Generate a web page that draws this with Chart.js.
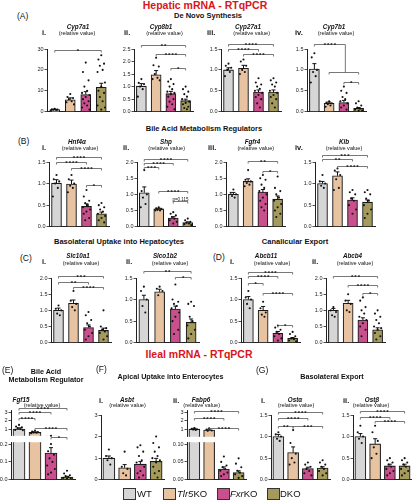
<!DOCTYPE html>
<html><head><meta charset="utf-8">
<script src="https://cdn.jsdelivr.net/npm/chart.js@4.4.1/dist/chart.umd.min.js"></script>
<style>
html,body{margin:0;padding:0;background:#fff;}
#fig{position:relative;width:412px;height:500px;overflow:hidden;font-family:"Liberation Sans",Arial,sans-serif;color:#111;}
.t{position:absolute;white-space:nowrap;line-height:1;transform:translate(-50%,-50%);}
.l{position:absolute;white-space:nowrap;line-height:1;transform:translate(0,-50%);}
canvas{position:absolute;}
.lg{position:absolute;top:488px;width:11px;height:10px;border:1px solid #333;}
</style></head><body><div id="fig"></div>
<script>
// ---------------- DATA ----------------
const GROUPS = ['WT','Tlr5KO','FxrKO','DKO'];
const COLORS = ['#d6d6d6','#e8c3a2','#c9508c','#a39a5b'];

const cyp7a1Mean = [1.0, 5.7, 8.2, 11.7];
const cyp7a1Sem  = [0.2, 0.9, 1.4, 1.9];
const cyp7a1Dots = [[1.4,1.2,1.0,0.9,0.8,0.5],[8.5,7,6.5,6,5,4.5,3.5],[23.5,19,15,12,10,9,8,7,6,5,4,3,2,1],[27,25,23,22,20,19,14,12,10,9,7,5,3,2,1]];
const cyp7a1Sig  = [[0,3,29.5,'*']];
const cyp7a1Ticks = [0,10,20,30];

const cyp8b1Mean = [1.02, 1.47, 0.72, 0.44];
const cyp8b1Sem  = [0.10, 0.17, 0.09, 0.06];
const cyp8b1Dots = [[1.3,1.15,1.1,1.0,0.9,0.6],[2.15,1.85,1.8,1.5,1.35,1.3,1.25],[1.3,1.2,1.1,1.0,0.9,0.8,0.75,0.7,0.6,0.5,0.4,0.3,0.2,0.1],[1.0,0.9,0.8,0.7,0.6,0.5,0.4,0.35,0.3,0.2,0.15,0.1]];
const cyp8b1Sig  = [[0,3,2.65,'**'],[1,3,2.32,'****'],[2,3,1.75,'*']];
const cyp8b1Ticks = [0,0.5,1,1.5,2,2.5];

const cyp27a1Mean = [1.0, 1.04, 0.47, 0.47];
const cyp27a1Sem  = [0.05, 0.07, 0.05, 0.05];
const cyp27a1Dots = [[1.15,1.1,1.05,1.0,0.95,0.85],[1.25,1.2,1.1,1.0,0.95,0.9],[0.8,0.7,0.65,0.6,0.55,0.5,0.45,0.4,0.35,0.3,0.2,0.1],[0.8,0.75,0.7,0.65,0.6,0.5,0.45,0.4,0.35,0.3,0.2,0.1]];
const cyp27a1Sig  = [[0,3,1.62,'****'],[0,2,1.5,'****'],[1,3,1.37,'****']];
const cyp27a1Ticks = [0,0.5,1,1.5];

const cyp7b1Mean = [1.02, 0.20, 0.22, 0.08];
const cyp7b1Sem  = [0.13, 0.03, 0.05, 0.02];
const cyp7b1Dots = [[1.4,1.3,1.0,0.95,0.85,0.7],[0.25,0.22,0.2,0.18,0.15,0.12],[0.6,0.5,0.45,0.35,0.3,0.25,0.2,0.15,0.1,0.05],[0.25,0.2,0.15,0.1,0.07,0.05,0.03,0.02]];
const cyp7b1Sig  = [[0,2.1,1.62,'****',1,3,0.96],[2,3,0.72,'*']];
const cyp7b1Ticks = [0,0.5,1,1.5];

const hnf4aMean = [1.01, 0.99, 0.47, 0.30];
const hnf4aSem  = [0.08, 0.09, 0.06, 0.04];
const hnf4aDots = [[1.2,1.1,1.05,1.0,0.9,0.7],[1.2,1.1,1.0,0.95,0.9,0.8],[0.85,0.7,0.6,0.55,0.5,0.45,0.4,0.35,0.3,0.2,0.15],[0.55,0.5,0.45,0.4,0.35,0.3,0.25,0.2,0.15,0.1]];
const hnf4aSig  = [[0,3,1.61,'****'],[0,2,1.49,'****'],[1,3,1.35,'****'],[2,3,0.97,'*']];
const hnf4aTicks = [0,0.5,1,1.5];

const shpMean = [1.05, 0.55, 0.27, 0.13];
const shpSem  = [0.18, 0.02, 0.04, 0.02];
const shpDots = [[1.75,1.1,1.0,0.9,0.7,0.6],[0.6,0.57,0.55,0.52,0.5,0.5],[0.45,0.4,0.35,0.3,0.25,0.2,0.15,0.1],[0.25,0.2,0.15,0.12,0.1,0.08,0.05]];
const shpSig  = [[0,3,2.09,'****'],[0,2,1.98,'****'],[0,1,1.86,'***'],[1,3,1.11,'****'],[2,3,0.78,'p=0.115']];
const shpTicks = [0,0.5,1,1.5,2];

const fgfr4Mean = [1.0, 1.40, 1.07, 0.85];
const fgfr4Sem  = [0.06, 0.08, 0.08, 0.10];
const fgfr4Dots = [[1.15,1.05,1.0,0.95,0.9],[1.75,1.45,1.4,1.35,1.3,1.25],[1.6,1.5,1.45,1.3,1.2,1.1,1.0,0.9,0.8,0.7,0.6,0.5],[1.55,1.2,1.1,1.0,0.9,0.8,0.7,0.6,0.5,0.4,0.3]];
const fgfr4Sig  = [[1,3,2.03,'**'],[2,3,1.72,'*']];
const fgfr4Ticks = [0,0.5,1,1.5,2];

const klbMean = [1.0, 1.18, 0.62, 0.57];
const klbSem  = [0.05, 0.09, 0.05, 0.05];
const klbDots = [[1.2,1.05,1.0,0.95,0.9],[1.35,1.3,1.2,1.1,0.9,0.85],[0.85,0.8,0.75,0.65,0.6,0.5,0.4,0.3],[0.85,0.8,0.75,0.65,0.6,0.5,0.4,0.3,0.2]];
const klbSig  = [[0,3,1.66,'***'],[0,2,1.58,'**'],[1,3,1.41,'****']];
const klbTicks = [0,0.5,1,1.5];

const slc10a1Mean = [1.0, 1.22, 0.47, 0.38];
const slc10a1Sem  = [0.07, 0.10, 0.08, 0.07];
const slc10a1Dots = [[1.15,1.05,1.0,0.9,0.85],[1.6,1.3,1.2,1.1,1.0],[0.95,0.85,0.7,0.6,0.5,0.4,0.3,0.2,0.1],[1.0,0.5,0.45,0.4,0.35,0.3,0.2,0.1]];
const slc10a1Sig  = [[0,3,2.06,'***'],[0,2,1.89,'**'],[1,3,1.73,'****']];
const slc10a1Ticks = [0,0.5,1,1.5,2];

const slco1b2Mean = [1.0, 1.18, 0.78, 0.47];
const slco1b2Sem  = [0.10, 0.06, 0.07, 0.08];
const slco1b2Dots = [[1.3,1.2,1.0,0.85,0.7],[1.3,1.25,1.2,1.1],[1.35,1.0,0.95,0.9,0.85,0.8,0.7,0.6,0.5,0.3,0.2],[0.95,0.9,0.85,0.6,0.5,0.4,0.3,0.2,0.1]];
const slco1b2Sig  = [[0,3,1.66,'**'],[2,3,1.53,'*']];
const slco1b2Ticks = [0,0.5,1,1.5];

const abcb11Mean = [1.0, 0.75, 0.22, 0.10];
const abcb11Sem  = [0.07, 0.09, 0.04, 0.02];
const abcb11Dots = [[1.2,1.05,1.0,0.9,0.8],[0.95,0.8,0.7,0.65,0.6],[0.4,0.35,0.3,0.25,0.2,0.15,0.1,0.05],[0.25,0.2,0.15,0.1,0.08,0.05,0.03]];
const abcb11Sig  = [[0,3,1.65,'****'],[0,2,1.55,'****'],[0,1,1.39,'*'],[1,3,1.15,'****'],[2,3,0.4,'*']];
const abcb11Ticks = [0,0.5,1,1.5];

const abcb4Mean = [1.0, 1.22, 0.70, 0.40];
const abcb4Sem  = [0.06, 0.09, 0.07, 0.06];
const abcb4Dots = [[1.1,1.0,0.95,0.85,0.8],[1.5,1.3,1.2,1.0,0.95],[1.4,1.3,1.1,1.0,0.9,0.8,0.7,0.6,0.5,0.4,0.2],[1.0,0.9,0.8,0.7,0.6,0.5,0.45,0.4,0.3,0.2,0.1]];
const abcb4Sig  = [[0,3,2.07,'***'],[1,3,1.78,'****'],[2,3,1.53,'*']];
const abcb4Ticks = [0,0.5,1,1.5,2];

const fgf15Mean = [1.0, 0.60, 0.15, 0.015];
const fgf15Sem  = [0.15, 0.05, 0.03, 0.004];
const fgf15Dots = [[1.5,1.3,1.2,1.1,1.0,0.9,0.85],[0.8,0.7,0.65,0.6,0.55,0.5],[0.2,0.16,0.14,0.12,0.1,0.08,0.06,0.04,0.03],[0.05,0.035,0.025,0.02,0.015,0.01,0.008,0.005]];
const fgf15Sig  = [[0,3,3.5,'****'],[0,2,3.03,'****'],[0,1,2.31,'****'],[1,3,1.12,'****'],[2,3,0.0,'*']];
const fgf15TicksUpper = [1,2,3];
const fgf15TicksLower = [0,0.1,0.2];

const asbtMean = [1.0, 0.55, 0.72, 0.85];
const asbtSem  = [0.10, 0.15, 0.12, 0.14];
const asbtDots = [[1.4,1.1,1.0,0.9,0.7],[1.3,0.6,0.5,0.3,0.2],[1.6,1.5,1.3,1.1,0.9,0.8,0.6,0.4,0.3,0.2,0.1],[2.0,1.7,1.5,1.3,1.1,1.0,0.9,0.8,0.6,0.4,0.3,0.1]];
const asbtSig  = [];
const asbtTicks = [0,1,2,3];

const fabp6Mean = [1.0, 0.90, 0.030, 0.020];
const fabp6Sem  = [0.10, 0.10, 0.006, 0.005];
const fabp6Dots = [[1.15,1.05,1.0,0.95,0.9],[1.1,0.95,0.85,0.8],[0.065,0.05,0.04,0.035,0.03,0.025,0.02,0.015,0.01],[0.06,0.045,0.035,0.025,0.02,0.015,0.01,0.005]];
const fabp6Sig  = [[0,3,3.18,'****'],[0,2,2.32,'****'],[1,3,1.2,'****']];
const fabp6TicksUpper = [1,2,3];
const fabp6TicksLower = [0,0.05,0.1];

const ostaMean = [1.0, 0.63, 0.26, 0.27];
const ostaSem  = [0.05, 0.13, 0.03, 0.03];
const ostaDots = [[1.1,1.05,1.0,0.95,0.9],[1.15,0.85,0.6,0.5,0.4,0.35],[0.4,0.35,0.3,0.25,0.2,0.15,0.1],[0.45,0.4,0.35,0.3,0.25,0.2,0.15,0.1]];
const ostaSig  = [[0,3,1.58,'****'],[0,2,1.44,'****'],[0,1,1.25,'**'],[1,3,1.25,'***']];
const ostaTicks = [0,0.5,1,1.5];

const ostbMean = [1.0, 0.83, 0.32, 0.32];
const ostbSem  = [0.07, 0.12, 0.04, 0.04];
const ostbDots = [[1.25,1.1,1.0,0.95,0.85],[1.25,1.1,0.9,0.75,0.6,0.5],[0.5,0.45,0.4,0.35,0.3,0.25,0.2,0.15,0.1],[0.5,0.45,0.4,0.35,0.3,0.25,0.2,0.15,0.1]];
const ostbSig  = [[0,3,1.59,'****'],[0,2,1.45,'****'],[1,3,1.36,'****']];
const ostbTicks = [0,0.5,1,1.5];

// ---------------- RENDERING ----------------
const fig = document.getElementById('fig');
const FF = "'Liberation Sans', Arial, sans-serif";

function txt(html, x, y, css, anchor){
  const d = document.createElement('div');
  d.className = anchor === 'l' ? 'l' : 't';
  d.innerHTML = html;
  d.style.cssText = 'left:'+x+'px;top:'+y+'px;' + css;
  fig.appendChild(d);
}

function spread(vals){
  const pat = [0,-0.18,0.18,-0.09,0.09,-0.24,0.24];
  return vals.slice().sort((a,b)=>b-a).map((v,k)=>({v, dx: pat[k % pat.length]}));
}

function annotPlugin(mean, sem, errOK, sig){
  return {
    id: 'annot',
    afterDatasetsDraw(chart){
      const ctx = chart.ctx, xs = chart.scales.x, ys = chart.scales.y;
      ctx.save();
      ctx.strokeStyle = '#111'; ctx.lineWidth = 1;
      mean.forEach((m,i)=>{
        if (!errOK(m)) return;
        const x = xs.getPixelForValue(i);
        const y0 = ys.getPixelForValue(m), y1 = ys.getPixelForValue(m + sem[i]);
        ctx.beginPath(); ctx.moveTo(x, y0); ctx.lineTo(x, y1);
        ctx.moveTo(x-2, y1); ctx.lineTo(x+2, y1); ctx.stroke();
      });
      sig.forEach(b=>{
        const [a, c, v, t, a2, c2, v2] = b;
        const y = Math.round(ys.getPixelForValue(v)) + 0.5;
        const x1 = xs.getPixelForValue(a), x2 = xs.getPixelForValue(c);
        ctx.strokeStyle = '#555'; ctx.lineWidth = 0.8;
        ctx.beginPath(); ctx.moveTo(x1, y+2); ctx.lineTo(x1, y); ctx.lineTo(x2, y);
        if (a2 == null) { ctx.lineTo(x2, y+2); }
        else {
          const yy = Math.round(ys.getPixelForValue(v2)) + 0.5;
          ctx.lineTo(x2, yy);
          const p1 = xs.getPixelForValue(a2), p2 = xs.getPixelForValue(c2);
          ctx.moveTo(p1, yy+2); ctx.lineTo(p1, yy); ctx.lineTo(p2, yy); ctx.lineTo(p2, yy+2);
        }
        ctx.stroke();
        ctx.fillStyle = '#111'; ctx.textAlign = 'center'; ctx.textBaseline = 'alphabetic';
        if (t.startsWith('p=')) {
          ctx.font = '4.5px ' + FF; ctx.letterSpacing = '0px';
          ctx.fillText(t, (x1+x2)/2, y-1);
        } else {
          ctx.font = 'bold 6px ' + FF; ctx.letterSpacing = '1px';
          ctx.fillText(t, (x1+x2)/2 + 0.5, y+2.4);
        }
      });
      ctx.restore();
    }
  };
}

function makeChart(p, g){
  const YW = 16, padR = 5;
  const w = 4 * p.s;
  const L = Math.round(p.left - YW), T = Math.round(g.top - g.padT);
  const cw = Math.round(YW + w + padR);
  const ch = Math.round(g.bottom - T + g.padB);
  const cv = document.createElement('canvas');
  cv.width = cw; cv.height = ch;
  cv.style.left = L + 'px'; cv.style.top = T + 'px';
  fig.appendChild(cv);
  const padTop = g.top - T, padBottom = ch - (g.bottom - T);
  const pts = [];
  p.dots.forEach((arr,i)=>{ spread(arr).forEach(o=>{ if (g.keep(o.v)) pts.push({x: i + o.dx, y: o.v}); }); });
  const bars = p.mean.map((m,i)=>({x:i, y:m}));
  new Chart(cv, {
    type: 'bar',
    data: { datasets: [
      { type:'scatter', data: pts, xAxisID:'x', yAxisID:'y', pointRadius: 1.05, pointBackgroundColor:'#111', pointBorderWidth:0, order:0, clip:false },
      { type:'bar', data: bars, xAxisID:'x', yAxisID:'y', backgroundColor: COLORS, borderColor:'#1a1a1a', borderWidth:1.1,
        barThickness: p.bw, order:1, clip:0 }
    ]},
    options: {
      responsive:false, animation:false, events:[],
      layout:{ padding:{ top: padTop, bottom: padBottom, left:0, right: padR } },
      plugins:{ legend:{display:false}, tooltip:{enabled:false} },
      scales:{
        x:{ type:'linear', min:-0.5, max:3.5, offset:false, grid:{display:false, drawTicks:false}, ticks:{display:false},
            border:{display: g.showX, color:'#222', width:1}, afterFit: s=>{ s.height = 0; } },
        y:{ type:'linear', min: g.min, max: g.max,
            afterBuildTicks: s=>{ s.ticks = g.ticks.map(v=>({value:v})); },
            afterFit: s=>{ s.width = YW; },
            ticks:{ font:{size:5.5, family:FF}, color:'#222', padding:1, autoSkip:false, callback: v=> Number(v).toFixed(g.dec) },
            grid:{ display:true, drawOnChartArea:false, drawTicks:true, tickLength:2.5, color:'#222', lineWidth:0.8 },
            border:{ display:true, color:'#222', width:1 } }
      }
    },
    plugins: [annotPlugin(p.mean, p.sem, g.errOK, g.sig)]
  });
}

function panel(p){
  makeChart(p, { min:0, max:p.max, ticks:p.ticks, dec:p.dec, top:p.top, bottom:p.bottom, padT:p.padT||16, padB:4,
    showX:true, sig:p.sig, keep:()=>true, errOK:()=>true });
}
function brokenPanel(p){
  makeChart(p, { min:p.upMin, max:p.upMax, ticks:p.ticksUp, dec:0, top:p.upTop, bottom:p.upBottom, padT:10, padB:4,
    showX:false, sig:p.sig, keep:v=> v >= p.upMin, errOK:m=> m > p.cut });
  makeChart(p, { min:0, max:p.cut, ticks:p.ticksLow, dec:p.decLow, top:p.lowTop, bottom:p.lowBottom, padT:2, padB:4,
    showX:true, sig:[], keep:v=> v <= p.cut, errOK:m=> m <= p.cut });
}

// Row A
panel({mean:cyp7a1Mean, sem:cyp7a1Sem, dots:cyp7a1Dots, sig:cyp7a1Sig, ticks:cyp7a1Ticks, dec:0, max:30, left:46.5, s:15.5, bw:10, top:49, bottom:112});
panel({mean:cyp8b1Mean, sem:cyp8b1Sem, dots:cyp8b1Dots, sig:cyp8b1Sig, ticks:cyp8b1Ticks, dec:1, max:2.5, left:133.5, s:14.7, bw:10, top:49, bottom:112});
panel({mean:cyp27a1Mean, sem:cyp27a1Sem, dots:cyp27a1Dots, sig:cyp27a1Sig, ticks:cyp27a1Ticks, dec:1, max:1.5, left:220.5, s:15, bw:10, top:49, bottom:112});
panel({mean:cyp7b1Mean, sem:cyp7b1Sem, dots:cyp7b1Dots, sig:cyp7b1Sig, ticks:cyp7b1Ticks, dec:1, max:1.5, left:306.5, s:14.7, bw:10, top:49, bottom:112});
// Row B
panel({mean:hnf4aMean, sem:hnf4aSem, dots:hnf4aDots, sig:hnf4aSig, ticks:hnf4aTicks, dec:1, max:1.5, left:49, s:15, bw:10, top:162, bottom:227});
panel({mean:shpMean, sem:shpSem, dots:shpDots, sig:shpSig, ticks:shpTicks, dec:1, max:2.0, left:137, s:14.5, bw:10, top:162, bottom:227});
panel({mean:fgfr4Mean, sem:fgfr4Sem, dots:fgfr4Dots, sig:fgfr4Sig, ticks:fgfr4Ticks, dec:1, max:2.0, left:225.5, s:14.7, bw:10, top:162, bottom:227});
panel({mean:klbMean, sem:klbSem, dots:klbDots, sig:klbSig, ticks:klbTicks, dec:1, max:1.5, left:314.5, s:15, bw:10, top:162, bottom:227});
// Row C / D
panel({mean:slc10a1Mean, sem:slc10a1Sem, dots:slc10a1Dots, sig:slc10a1Sig, ticks:slc10a1Ticks, dec:1, max:2.0, left:50.5, s:15, bw:10, top:278, bottom:343});
panel({mean:slco1b2Mean, sem:slco1b2Sem, dots:slco1b2Dots, sig:slco1b2Sig, ticks:slco1b2Ticks, dec:1, max:1.5, left:136, s:15.7, bw:10, top:278, bottom:343});
panel({mean:abcb11Mean, sem:abcb11Sem, dots:abcb11Dots, sig:abcb11Sig, ticks:abcb11Ticks, dec:1, max:1.5, left:240.5, s:14.7, bw:10, top:278, bottom:343});
panel({mean:abcb4Mean, sem:abcb4Sem, dots:abcb4Dots, sig:abcb4Sig, ticks:abcb4Ticks, dec:1, max:2.0, left:325.5, s:14.7, bw:10, top:278, bottom:343});
// Row E / F / G
brokenPanel({mean:fgf15Mean, sem:fgf15Sem, dots:fgf15Dots, sig:fgf15Sig, ticksUp:fgf15TicksUpper, ticksLow:fgf15TicksLower, decLow:1,
  upMin:0.2, upMax:3.3, cut:0.21, left:11, s:16, bw:12, upTop:410, upBottom:436, lowTop:440, lowBottom:480});
panel({mean:asbtMean, sem:asbtSem, dots:asbtDots, sig:asbtSig, ticks:asbtTicks, dec:0, max:3, left:101, s:15.7, bw:12, top:415, bottom:480, padT:8});
brokenPanel({mean:fabp6Mean, sem:fabp6Sem, dots:fabp6Dots, sig:fabp6Sig, ticksUp:fabp6TicksUpper, ticksLow:fabp6TicksLower, decLow:2,
  upMin:0.1, upMax:3.3, cut:0.105, left:186.5, s:14.7, bw:11, upTop:410, upBottom:437, lowTop:440, lowBottom:480});
panel({mean:ostaMean, sem:ostaSem, dots:ostaDots, sig:ostaSig, ticks:ostaTicks, dec:1, max:1.5, left:270.5, s:14.7, bw:11, top:415, bottom:480, padT:10});
panel({mean:ostbMean, sem:ostbSem, dots:ostbDots, sig:ostbSig, ticks:ostbTicks, dec:1, max:1.5, left:352.5, s:14.7, bw:11, top:415, bottom:480, padT:10});

// ---------------- TEXT ----------------
const RED = 'color:#d9141c;font-weight:bold;font-size:10.5px;';
const HEAD = 'font-weight:bold;font-size:7.5px;';
const LET = 'font-size:8.5px;';
const NUM = 'font-weight:bold;font-size:7.5px;';
const GENE = 'font-weight:bold;font-style:italic;font-size:6.3px;';
const REL = 'font-size:5.6px;';

txt('Hepatic mRNA - RTqPCR', 205, 5, RED);
txt('(A)', 17, 16, LET, 'l');
txt('De Novo Synthesis', 208, 15.5, HEAD);
[['i.',42],['ii.',124],['iii.',207],['iv.',295]].forEach(([s,x])=>txt(s,x,33,NUM,'l'));
[['Cyp7a1',78],['Cyp8b1',161],['Cyp27a1',248],['Cyp7b1',334]].forEach(([s,x])=>txt(s,x,27,GENE));
[77,164.5,251.7,336].forEach(x=>txt('(relative value)',x,34,REL));

txt('Bile Acid Metabolism Regulators', 204, 129, HEAD);
txt('(B)', 18, 141, LET, 'l');
[['i.',42],['ii.',123],['iii.',208],['iv.',295]].forEach(([s,x])=>txt(s,x,148,NUM,'l'));
[['Hnf4α',77],['Shp',166],['Fgfr4',252.5],['Klb',344]].forEach(([s,x])=>txt(s,x,142,GENE));
[80,166.7,255.8,344].forEach(x=>txt('(relative value)',x,149,REL));

txt('Basolateral Uptake into Hepatocytes', 119, 242, HEAD);
txt('Canalicular Export', 295, 242, HEAD);
txt('(C)', 20, 258, LET, 'l');
txt('(D)', 213, 257, LET, 'l');
[['i.',42],['ii.',126],['i.',230],['ii.',312]].forEach(([s,x])=>txt(s,x,262,NUM,'l'));
[['Slc10a1',78],['Slco1b2',165],['Abcb11',266],['Abcb4',352.5]].forEach(([s,x])=>txt(s,x,256,GENE));
[81,170,272,355].forEach(x=>txt('(relative value)',x,263.5,REL));

txt('Ileal mRNA - RTqPCR', 199, 354, RED);
txt('(E)', 2, 370, LET, 'l');
txt('(F)', 96, 369, LET, 'l');
txt('(G)', 256, 370, LET, 'l');
txt('Bile Acid', 46, 371.5, 'font-weight:bold;font-size:7.2px;');
txt('Metabolism Regulator', 46, 380, 'font-weight:bold;font-size:7.2px;');
txt('Apical Uptake into Enterocytes', 170.5, 377, 'font-weight:bold;font-size:7.2px;');
txt('Basolateral Export', 332, 377, 'font-weight:bold;font-size:7.2px;');
[['i.',99],['ii.',173],['i.',261],['ii.',343]].forEach(([s,x])=>txt(s,x,401,NUM,'l'));
[['Fgf15',21],['Asbt',127],['Fabp6',201],['Ostα',295],['Ostβ',372]].forEach(([s,x])=>txt(s,x,399.5,GENE));
[42,127.5,201.7,296,371].forEach(x=>txt('(relative value)',x,406,REL));

const LEG = [[123,137,'WT'],[163,177,'<i>Tlr5</i>KO'],[217,230,'<i>Fxr</i>KO'],[267,280,'DKO']];
LEG.forEach(([bx,tx,label],i)=>{
  const b = document.createElement('div'); b.className='lg'; b.style.left = bx+'px'; b.style.background = COLORS[i]; fig.appendChild(b);
  txt(label, tx, 494, 'font-size:9.5px;', 'l');
});
</script></body></html>
